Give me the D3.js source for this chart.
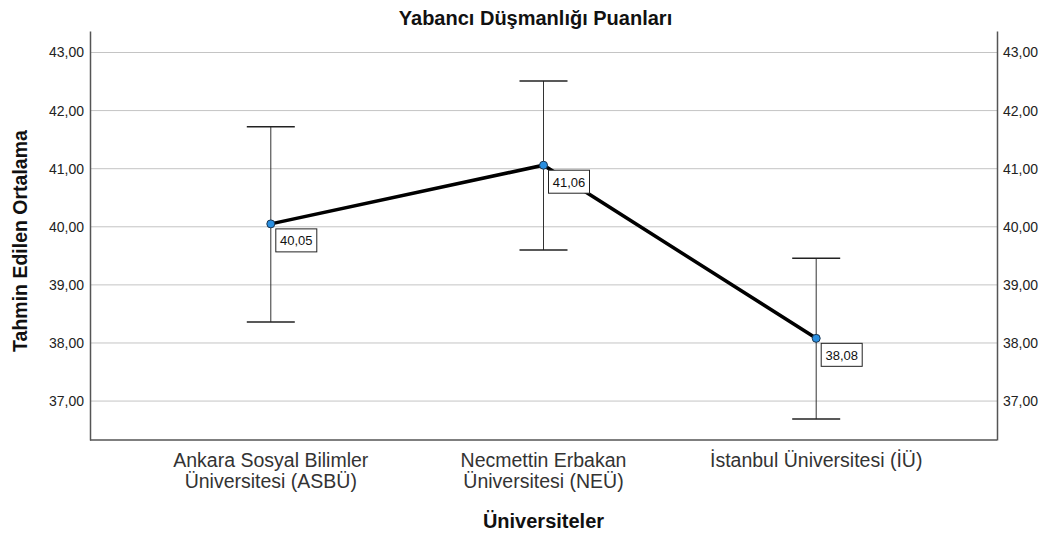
<!DOCTYPE html>
<html>
<head>
<meta charset="utf-8">
<script src="https://cdn.jsdelivr.net/npm/d3@7"></script>
<style>
  body { margin: 0; background: #fff; }
  svg text { font-family: "Liberation Sans", Arial, sans-serif; }
</style>
</head>
<body>
<svg id="chart" width="1044" height="535"></svg>
<script>
// data
const universities = [
  ["Ankara Sosyal Bilimler", "Üniversitesi (ASBÜ)"],
  ["Necmettin Erbakan", "Üniversitesi (NEÜ)"],
  ["İstanbul Üniversitesi (İÜ)"]
];
const means = [40.05, 41.06, 38.08];
const upperCI = [41.72, 42.51, 39.46];
const lowerCI = [38.36, 39.60, 36.69];
const yTicks = [37, 38, 39, 40, 41, 42, 43];

const svg = d3.select("#chart");
const margin = { top: 31, right: 47, bottom: 95, left: 90 };
const width = 1044 - margin.left - margin.right;
const height = 535 - margin.top - margin.bottom;
const fmt = v => d3.format(".2f")(v).replace(".", ",");

const keys = universities.map((d, i) => i);
const x = d3.scalePoint().domain(keys).range([0, width]).padding(0.663);
const y = d3.scaleLinear().domain([36.33, 43.37]).range([height, 0]);

const g = svg.append("g").attr("transform", `translate(${margin.left},${margin.top})`);

// grid
g.selectAll(".grid").data(yTicks).join("line")
  .attr("x1", 0).attr("x2", width)
  .attr("y1", d => y(d)).attr("y2", d => y(d))
  .attr("stroke", "#c4c4c4").attr("stroke-width", 1);

// axes
const leftAxis = g.append("g").call(d3.axisLeft(y).tickValues(yTicks).tickFormat(fmt).tickSize(0).tickPadding(6));
const rightAxis = g.append("g").attr("transform", `translate(${width},0)`)
  .call(d3.axisRight(y).tickValues(yTicks).tickFormat(fmt).tickSize(0).tickPadding(6));
[leftAxis, rightAxis].forEach(a => {
  a.select(".domain").attr("stroke", "#555").attr("stroke-width", 1.5);
  a.selectAll("text").attr("font-size", 14).attr("fill", "#222")
    .style("font-family", "'Liberation Sans', Arial, sans-serif");
});
g.append("line").attr("x1", 0).attr("x2", width).attr("y1", height).attr("y2", height)
  .attr("stroke", "#555").attr("stroke-width", 1.5);

// error bars
const cap = 24;
keys.forEach(i => {
  const cx = x(i);
  g.append("line").attr("x1", cx).attr("x2", cx).attr("y1", y(upperCI[i])).attr("y2", y(lowerCI[i]))
    .attr("stroke", "#333").attr("stroke-width", 1);
  [upperCI[i], lowerCI[i]].forEach(v => {
    g.append("line").attr("x1", cx - cap).attr("x2", cx + cap).attr("y1", y(v)).attr("y2", y(v))
      .attr("stroke", "#222").attr("stroke-width", 1.5);
  });
});

// mean line
g.append("path").datum(keys)
  .attr("d", d3.line().x(i => x(i)).y(i => y(means[i])))
  .attr("fill", "none").attr("stroke", "#000").attr("stroke-width", 3.5);

// points
g.selectAll(".pt").data(keys).join("circle")
  .attr("cx", i => x(i)).attr("cy", i => y(means[i])).attr("r", 4)
  .attr("fill", "#2a8fe0").attr("stroke", "#1a3550").attr("stroke-width", 1);

// value labels
keys.forEach(i => {
  const lx = x(i) + 5, ly = y(means[i]) + 5;
  g.append("rect").attr("x", lx).attr("y", ly).attr("width", 41).attr("height", 23)
    .attr("fill", "#fff").attr("stroke", "#222").attr("stroke-width", 1);
  g.append("text").attr("x", lx + 20.5).attr("y", ly + 16.5).attr("text-anchor", "middle")
    .attr("font-size", 13).attr("fill", "#111").text(fmt(means[i]));
});

// category labels
keys.forEach(i => {
  const t = g.append("text").attr("x", x(i)).attr("y", height + 27)
    .attr("text-anchor", "middle").attr("font-size", 19.5).attr("fill", "#333");
  universities[i].forEach((line, j) => {
    t.append("tspan").attr("x", x(i)).attr("dy", j === 0 ? 0 : 21).text(line);
  });
});

// titles
svg.append("text").attr("x", margin.left + width / 2 - 8).attr("y", 25).attr("text-anchor", "middle")
  .attr("font-size", 20).attr("font-weight", "bold").attr("fill", "#111")
  .text("Yabancı Düşmanlığı Puanları");
svg.append("text").attr("x", margin.left + width / 2).attr("y", 528).attr("text-anchor", "middle")
  .attr("font-size", 20).attr("font-weight", "bold").attr("fill", "#111")
  .text("Üniversiteler");
svg.append("text").attr("transform", `translate(27,241) rotate(-90)`)
  .attr("text-anchor", "middle").attr("font-size", 19.5)
  .attr("font-weight", "bold").attr("fill", "#111")
  .text("Tahmin Edilen Ortalama");
</script>
</body>
</html>
